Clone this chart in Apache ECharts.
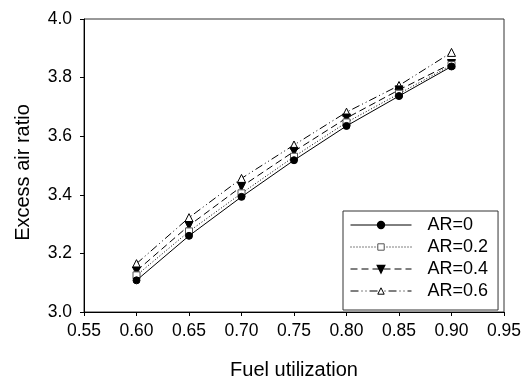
<!DOCTYPE html>
<html><head><meta charset="utf-8">
<script src="https://cdn.jsdelivr.net/npm/echarts@6/dist/echarts.min.js"></script>
<style>html,body{margin:0;padding:0;background:#fff}#c{width:524px;height:379px}</style>
</head><body><div id="c"></div>
<script>
const fuelUtil = [0.60, 0.65, 0.70, 0.75, 0.80, 0.85, 0.90];
const ar0  = [3.108, 3.260, 3.393, 3.518, 3.635, 3.737, 3.838];
const ar02 = [3.125, 3.275, 3.405, 3.530, 3.647, 3.745, 3.843];
const ar04 = [3.140, 3.295, 3.428, 3.548, 3.662, 3.758, 3.848];
const ar06 = [3.165, 3.322, 3.456, 3.570, 3.682, 3.773, 3.886];
const seriesNames = ['AR=0', 'AR=0.2', 'AR=0.4', 'AR=0.6'];

const pair = arr => fuelUtil.map((x, i) => [x, arr[i]]);
const font = 'Arial, "Liberation Sans", sans-serif';

const chart = echarts.init(document.getElementById('c'), null, {renderer: 'canvas'});
chart.setOption({
  animation: false,
  backgroundColor: '#fff',
  grid: {left: 84, right: 20, top: 19, bottom: 67, show: true, borderColor: '#333', borderWidth: 1,
    containLabel: false, outerBoundsMode: 'none'},
  xAxis: {
    type: 'value', min: 0.55, max: 0.95, interval: 0.05,
    name: 'Fuel utilization', nameLocation: 'middle', nameGap: 48,
    nameTextStyle: {fontFamily: font, fontSize: 20, color: '#000'},
    axisLine: {lineStyle: {color: '#000', width: 1}},
    axisTick: {inside: false, length: 4, lineStyle: {color: '#000'}},
    axisLabel: {fontFamily: font, fontSize: 17.5, color: '#000', margin: 10,
      formatter: v => v.toFixed(2)},
    splitLine: {show: false}
  },
  yAxis: {
    type: 'value', min: 3.0, max: 4.0, interval: 0.2,
    name: 'Excess air ratio', nameLocation: 'middle', nameGap: 51,
    nameTextStyle: {fontFamily: font, fontSize: 20, color: '#000', padding: [0, 14, 0, 0]},
    axisLine: {show: true, lineStyle: {color: '#000', width: 1}},
    axisTick: {show: true, inside: false, length: 4, lineStyle: {color: '#000'}},
    axisLabel: {fontFamily: font, fontSize: 17.5, color: '#000', margin: 12,
      formatter: v => v.toFixed(1)},
    splitLine: {show: false}
  },
  legend: {
    orient: 'vertical', left: 343, top: 211,
    padding: [5, 10, 10, 7],
    itemWidth: 61, itemHeight: 8, itemGap: 4,
    borderColor: '#333', borderWidth: 1, backgroundColor: '#fff',
    lineStyle: {width: 1, color: '#000'},
    textStyle: {fontFamily: font, fontSize: 18, color: '#000', padding: [0, 0, 0, 11]},
    data: [
      {name: seriesNames[0]},
      {name: seriesNames[1], itemStyle: {color: '#fff', borderColor: '#555', borderWidth: 1}},
      {name: seriesNames[2]},
      {name: seriesNames[3], itemStyle: {color: '#fff', borderColor: '#000', borderWidth: 1}}
    ]
  },
  series: [
    {name: seriesNames[0], type: 'line', data: pair(ar0), symbol: 'circle', symbolSize: 7,
      lineStyle: {color: '#000', width: 1, type: 'solid'},
      itemStyle: {color: '#000', borderColor: '#000', borderWidth: 1}, z: 5},
    {name: seriesNames[1], type: 'line', data: pair(ar02), symbol: 'rect', symbolSize: 7,
      lineStyle: {color: '#000', width: 1, type: [1, 2]},
      itemStyle: {color: '#fff', borderColor: '#555', borderWidth: 1}, z: 4},
    {name: seriesNames[2], type: 'line', data: pair(ar04), symbol: 'triangle', symbolSize: 8, symbolRotate: 180,
      lineStyle: {color: '#000', width: 1, type: [7, 4]},
      itemStyle: {color: '#000', borderColor: '#000', borderWidth: 1}, z: 3},
    {name: seriesNames[3], type: 'line', data: pair(ar06), symbol: 'triangle', symbolSize: 8,
      lineStyle: {color: '#000', width: 1, type: [8, 3, 1, 3, 1, 3]},
      itemStyle: {color: '#fff', borderColor: '#000', borderWidth: 1}, z: 2}
  ]
});
</script></body></html>
